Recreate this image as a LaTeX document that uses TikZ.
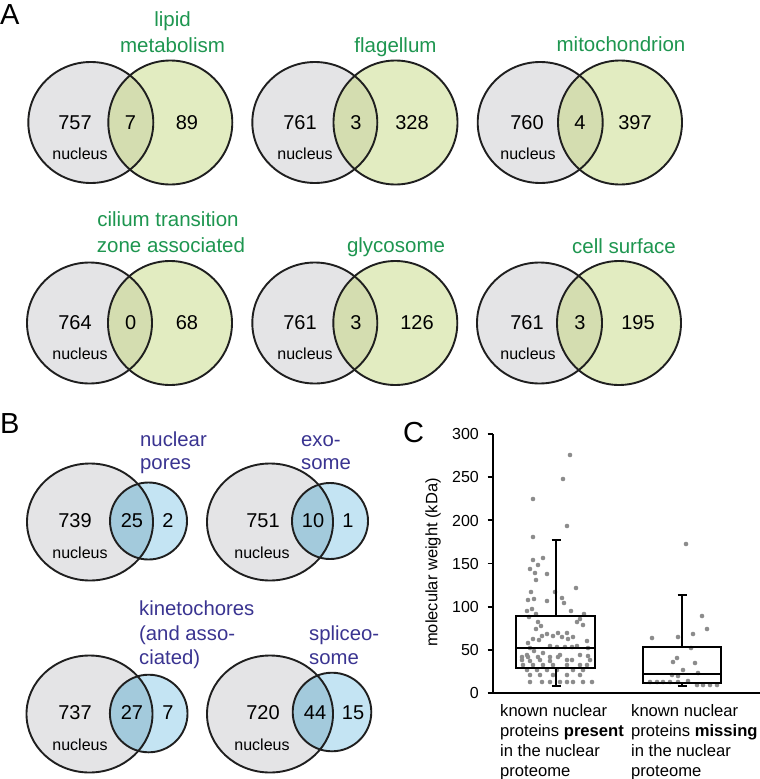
\documentclass[tikz,border=0pt]{standalone}
\usepackage{fontspec}
\setmainfont{Liberation Sans}
\definecolor{cgray}{RGB}{228,228,230}
\definecolor{cgreen}{RGB}{226,236,193}
\definecolor{cgreenint}{RGB}{212,221,176}
\definecolor{cblue}{RGB}{196,228,243}
\definecolor{cblueint}{RGB}{163,202,220}
\definecolor{tgreen}{RGB}{30,150,80}
\definecolor{tblue}{RGB}{58,52,145}
\definecolor{dotgray}{RGB}{140,140,140}
\newcommand{\vennpair}[9]{%
  \fill[cgray] (#1,#2) ellipse[x radius=#3, y radius=#4];
  \fill[#8] (#5,#6) circle[radius=#7];
  \begin{scope}
    \clip (#1,#2) ellipse[x radius=#3, y radius=#4];
    \fill[#9] (#5,#6) circle[radius=#7];
  \end{scope}
  \draw[vline] (#1,#2) ellipse[x radius=#3, y radius=#4];
  \draw[vline] (#5,#6) circle[radius=#7];
}
\tikzset{
  vline/.style={line width=1.9pt, draw=black!88},
  num/.style={font=\fontsize{20}{24}\selectfont, inner sep=0pt, anchor=base},
  nuc/.style={font=\fontsize{16}{19}\selectfont, inner sep=0pt, anchor=base},
  glab/.style={font=\fontsize{20.5}{24}\selectfont, text=tgreen, inner sep=0pt, anchor=base},
  blab/.style={font=\fontsize{20.3}{24}\selectfont, text=tblue, inner sep=0pt, anchor=base west},
  plab/.style={font=\fontsize{29}{32}\selectfont, inner sep=0pt, anchor=base west},
  tick/.style={font=\fontsize{16}{19}\selectfont, inner sep=0pt, anchor=base east},
  clab/.style={font=\fontsize{16.6}{20}\selectfont, inner sep=0pt, anchor=base west},
  axis/.style={line width=1.9pt, draw=black},
  boxl/.style={line width=1.9pt, draw=black},
  dot/.style={fill=dotgray},
}
\begin{document}
\begin{tikzpicture}[x=1pt,y=-1pt]
\useasboundingbox (0,0) rectangle (760,779);
\fill[white] (0,0) rectangle (760,779);

% ---------- Panel A ----------
\node[plab] (pA) at (0,24) {A};
% top row
\vennpair{90.8}{122.5}{62.5}{60.5}{170.3}{122.5}{62}{cgreen}{cgreenint}
\vennpair{314.8}{122.5}{62.5}{60.5}{395.5}{122.5}{62}{cgreen}{cgreenint}
\vennpair{540.2}{122.5}{62.5}{60.5}{620}{122.5}{62}{cgreen}{cgreenint}
% bottom row
\vennpair{89.5}{323}{62.5}{60.5}{170}{323}{62}{cgreen}{cgreenint}
\vennpair{314.8}{323}{62.5}{60.5}{395.3}{323}{62}{cgreen}{cgreenint}
\vennpair{539.5}{323}{62.5}{60.5}{619}{323}{62}{cgreen}{cgreenint}

\node[glab] (l1a) at (172.5,26.5) {lipid};
\node[glab] (l1b) at (172.5,52.3) {metabolism};
\node[glab] (l2) at (395.5,52.3) {flagellum};
\node[glab] (l3) at (621,51.5) {mitochondrion};
\node[glab] (l4a) at (168,226.5) {cilium transition};
\node[glab] (l4b) at (171,252) {zone associated};
\node[glab] (l5) at (396,252) {glycosome};
\node[glab] (l6) at (624,253) {cell surface};

\node[num] (n1a) at (75,129) {757};
\node[num] (n1b) at (130.5,129) {7};
\node[num] (n1c) at (187,129) {89};
\node[num] (n2a) at (300,129) {761};
\node[num] (n2b) at (356,129) {3};
\node[num] (n2c) at (412,129) {328};
\node[num] (n3a) at (527,129) {760};
\node[num] (n3b) at (580,129) {4};
\node[num] (n3c) at (635,129) {397};
\node[nuc] (u1) at (80,159.3) {nucleus};
\node[nuc] (u2) at (305,159.3) {nucleus};
\node[nuc] (u3) at (528,159.3) {nucleus};

\node[num] (n4a) at (75,329) {764};
\node[num] (n4b) at (130.7,329) {0};
\node[num] (n4c) at (187,329) {68};
\node[num] (n5a) at (300,329) {761};
\node[num] (n5b) at (356,329) {3};
\node[num] (n5c) at (417,329) {126};
\node[num] (n6a) at (527,329) {761};
\node[num] (n6b) at (580,329) {3};
\node[num] (n6c) at (638,329) {195};
\node[nuc] (u4) at (80,359.3) {nucleus};
\node[nuc] (u5) at (305,359.3) {nucleus};
\node[nuc] (u6) at (528,359.3) {nucleus};

% ---------- Panel B ----------
\node[plab] (pB) at (0,433) {B};
\vennpair{90}{522}{63}{58.5}{148.5}{521}{38.5}{cblue}{cblueint}
\vennpair{270}{522}{63}{58.5}{330}{521}{38}{cblue}{cblueint}
\vennpair{89.5}{714}{63}{58.5}{148.7}{713.5}{38.8}{cblue}{cblueint}
\vennpair{270}{714}{63}{58.5}{332}{712}{39.3}{cblue}{cblueint}

\node[blab] (b1a) at (140,446.7) {nuclear};
\node[blab] (b1b) at (140,469.5) {pores};
\node[blab] (b2a) at (301,446.7) {exo-};
\node[blab] (b2b) at (301,469.5) {some};
\node[blab] (b3a) at (139,615) {kinetochores};
\node[blab] (b3b) at (139,640) {(and asso-};
\node[blab] (b3c) at (139,664) {ciated)};
\node[blab] (b4a) at (309,640) {spliceo-};
\node[blab] (b4b) at (309,664) {some};

\node[num] (m1a) at (75,527) {739};
\node[num] (m1b) at (132,527) {25};
\node[num] (m1c) at (168,527) {2};
\node[num] (m2a) at (263,527) {751};
\node[num] (m2b) at (313,527) {10};
\node[num] (m2c) at (348,527) {1};
\node[nuc] (v1) at (80,558) {nucleus};
\node[nuc] (v2) at (262,558) {nucleus};
\node[num] (m3a) at (75,719) {737};
\node[num] (m3b) at (132,719) {27};
\node[num] (m3c) at (168,719) {7};
\node[num] (m4a) at (263,719) {720};
\node[num] (m4b) at (315,719) {44};
\node[num] (m4c) at (353,719) {15};
\node[nuc] (v3) at (80,750.5) {nucleus};
\node[nuc] (v4) at (262,750.5) {nucleus};

% ---------- Panel C ----------
\node[plab] (pC) at (403,442) {C};
% dots group 1
\foreach \p in {(570,455),(563,479),(533,499),(567,526),(533,537),(533,560),(543,558),(530,569),(538,565),(535,573),(547,574),(536,580),(576,588),(531,592),(555,592),(528,600),(534,599),(547,601),(562,598),(564,603),(527,611),(532,609),(536,614),(571,611),(584,614),(529,617),
(580,619),(538,622),(541,626),(536,629),(577,622),(583,625),(547,634),(553,636),(558,633),(562,637),(567,633),(568,639),(573,637),(542,636),(533,639),(539,640),(587,641),(528,643),(550,646),(557,647),(565,647),(572,647),(577,646),(530,648),(588,648),(534,651),(522,657),(528,657),(538,657),(543,653),(550,657),(558,657),(572,660),(527,655),(560,655),(580,655),(588,656),(522,660),(530,661),(540,660),(550,661),(567,660),(590,660),(523,665),(533,665),(543,665),(553,665),(567,665),(580,665),(587,665),
(527,670),(537,670),(547,670),(557,670),(573,670),(583,670),(530,675),(540,675),(553,675),(567,675),(580,675),(530,682),(542,682),(550,682),(560,682),(567,682),(573,682),(583,682),(592,682)}
  \fill[dot] \p circle[radius=2.3];
% dots group 2
\foreach \p in {(686,544),(702,616),(707,629),(693,634),(678,637),(652,638),(691,648),(677,658),(673,662),(695,663),(683,670),(698,673),(672,675),(678,676),(650,682),(657,682),(663,682),(670,682),(678,682),(688,681),(697,685),(703,685),(710,685),(717,685)}
  \fill[dot] \p circle[radius=2.3];

% box 1
\draw[boxl] (556,616) -- (556,540);
\draw[boxl] (551.5,540) -- (560.5,540);
\draw[boxl] (556,668) -- (556,686);
\draw[boxl] (551.5,686) -- (560.5,686);
\draw[boxl] (516,616) rectangle (595,668);
\draw[boxl] (516,648) -- (595,648);
% box 2
\draw[boxl] (682,647) -- (682,595);
\draw[boxl] (677.5,595) -- (686.5,595);
\draw[boxl] (682,683) -- (682,686);
\draw[boxl] (677.5,686) -- (686.5,686);
\draw[boxl] (643,647) rectangle (721,683);
\draw[boxl] (643,674) -- (721,674);

% axes
\coordinate (o) at (493,693);
\coordinate (ytop) at (493,434);
\coordinate (xend) at (760,693);
\draw[axis] (ytop) -- (o) -- (xend);
\foreach \v in {0,50,100,150,200,250,300}{
  \pgfmathsetmacro{\yy}{693-0.8633*\v}
  \draw[axis] (487.5,\yy) -- (493,\yy);
  \node[tick] at (479,\yy+5.7) {\v};
}
\node[font=\fontsize{16.5}{19}\selectfont, rotate=90, inner sep=0pt] (ylab) at (433,562.5) {molecular weight (kDa)};

\node[clab] (c1a) at (500,716.7) {known nuclear};
\node[clab] (c1b) at (500,736.7) {proteins \textbf{present}};
\node[clab] (c1c) at (500,756.7) {in the nuclear};
\node[clab] (c1d) at (500,776.7) {proteome};
\node[clab] (c2a) at (631,716.7) {known nuclear};
\node[clab] (c2b) at (631,736.7) {proteins \textbf{missing}};
\node[clab] (c2c) at (631,756.7) {in the nuclear};
\node[clab] (c2d) at (631,776.7) {proteome};
\end{tikzpicture}
\end{document}
